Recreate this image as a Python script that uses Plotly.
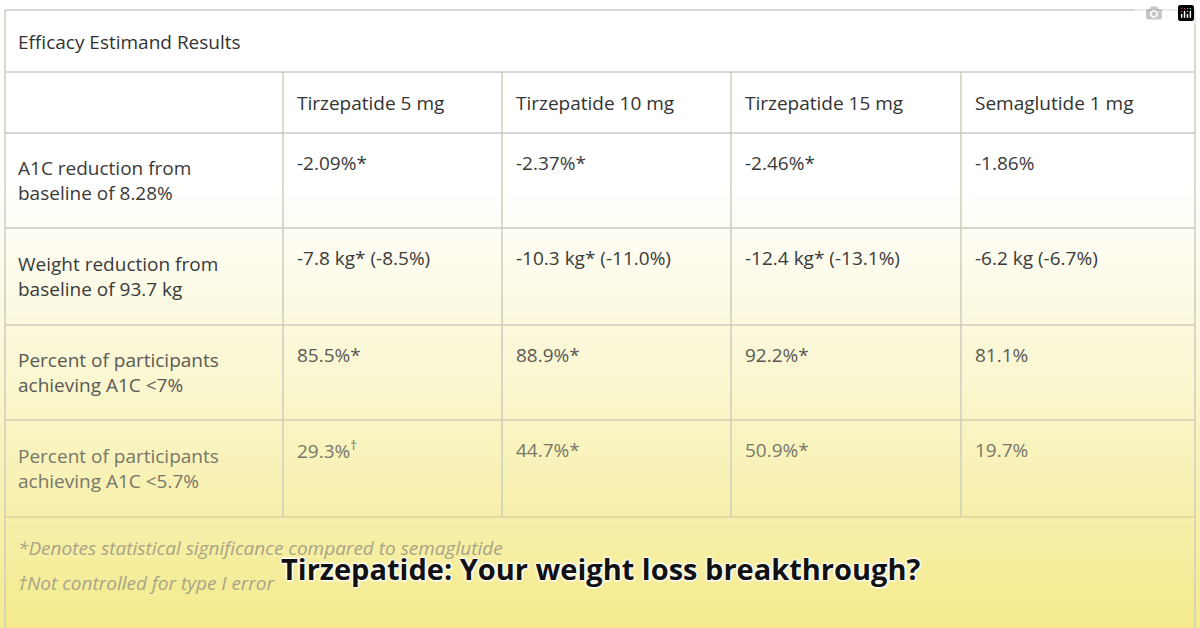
import plotly.graph_objects as go

title = "Efficacy Estimand Results"
columns = ["Tirzepatide 5 mg", "Tirzepatide 10 mg", "Tirzepatide 15 mg", "Semaglutide 1 mg"]
row_labels = ["A1C reduction from<br>baseline of 8.28%",
              "Weight reduction from<br>baseline of 93.7 kg",
              "Percent of participants<br>achieving A1C <7%",
              "Percent of participants<br>achieving A1C <5.7%"]
values = [
    ["-2.09%*", "-2.37%*", "-2.46%*", "-1.86%"],
    ["-7.8 kg* (-8.5%)", "-10.3 kg* (-11.0%)", "-12.4 kg* (-13.1%)", "-6.2 kg (-6.7%)"],
    ["85.5%*", "88.9%*", "92.2%*", "81.1%"],
    ["29.3%<sup>†</sup>", "44.7%*", "50.9%*", "19.7%"],
]
footnotes = ["*Denotes statistical significance compared to semaglutide", "†Not controlled for type I error"]
caption = "Tirzepatide: Your weight loss breakthrough?"

W, H = 1200, 628
col_x = [5, 283, 502, 731, 961, 1195]
row_y = [10, 72, 133, 228, 325, 420, 517]

def blend(c1, c2, t):
    t = max(0, min(1, t))
    return "rgb(%d,%d,%d)" % tuple(round(a + (b - a) * t) for a, b in zip(c1, c2))

shapes = []
top_c, bot_c = (255, 255, 255), (244, 234, 140)
y0g, n = 180, 90
shapes.append(dict(type="rect", x0=0, x1=W, y0=0, y1=y0g, fillcolor="white", line_width=0, layer="below"))
for i in range(n):
    a = y0g + (H - y0g) * i / n
    b = y0g + (H - y0g) * (i + 1) / n + 1
    t = ((i + 0.5) / n) ** 1.1
    shapes.append(dict(type="rect", x0=0, x1=W, y0=a, y1=b, fillcolor=blend(top_c, bot_c, t), line_width=0, layer="below"))

def line_col(y):
    return blend((200, 200, 200), (225, 215, 150), (y - 200) / 428)

for y in row_y:
    shapes.append(dict(type="line", x0=col_x[0], x1=col_x[-1], y0=y, y1=y, line=dict(color=line_col(y), width=1.5)))
for x in (col_x[0], col_x[-1]):
    shapes.append(dict(type="line", x0=x, x1=x, y0=row_y[0], y1=H, line=dict(color=line_col(300), width=1.5)))
for x in col_x[1:-1]:
    shapes.append(dict(type="line", x0=x, x1=x, y0=row_y[1], y1=row_y[-1], line=dict(color=line_col(300), width=1.5)))

ann = []
font = "Open Sans, Noto Sans, sans-serif"
def txt(x, y, s, color, size=19, **kw):
    ann.append(dict(x=x, y=y, text=s, showarrow=False, xanchor="left", yanchor="middle",
                    align="left", font=dict(family=font, size=size, color=color), **kw))

txt(16, 42, title, "#333", 19)
for j, c in enumerate(columns):
    txt(col_x[j + 1] + 12, 103, c, "#333", 19)
row_colors = ["#3a3a3a", "#3a3a3a", "#5a5a55", "#77776a"]
for i, lab in enumerate(row_labels):
    yc = (row_y[i + 2] + row_y[i + 3]) / 2
    txt(16, yc, lab, row_colors[i], 19)
    for j, v in enumerate(values[i]):
        txt(col_x[j + 1] + 12, row_y[i + 2] + 30, v, row_colors[i], 19)
txt(16, 548, "<i>" + footnotes[0] + "</i>", "#a8a488", 19)
txt(16, 583, "<i>" + footnotes[1] + "</i>", "#a8a488", 19)
ann.append(dict(x=600, y=568, text="<b>" + caption + "</b>", showarrow=False, xanchor="center", yanchor="middle",
                font=dict(family="Open Sans, sans-serif", size=29, color="#111",
                          shadow="1px 1px 2px white, -1px -1px 2px white, 1px -1px 2px white, -1px 1px 2px white")))

fig = go.Figure()
fig.update_layout(width=W, height=H, margin=dict(l=0, r=0, t=0, b=0),
                  paper_bgcolor="white", plot_bgcolor="white", shapes=shapes, annotations=ann,
                  xaxis=dict(range=[0, W], visible=False, fixedrange=True),
                  yaxis=dict(range=[H, 0], visible=False, fixedrange=True), showlegend=False)
fig.write_html("out.html", post_script="document.body.style.margin='0';document.body.style.overflow='hidden';")
